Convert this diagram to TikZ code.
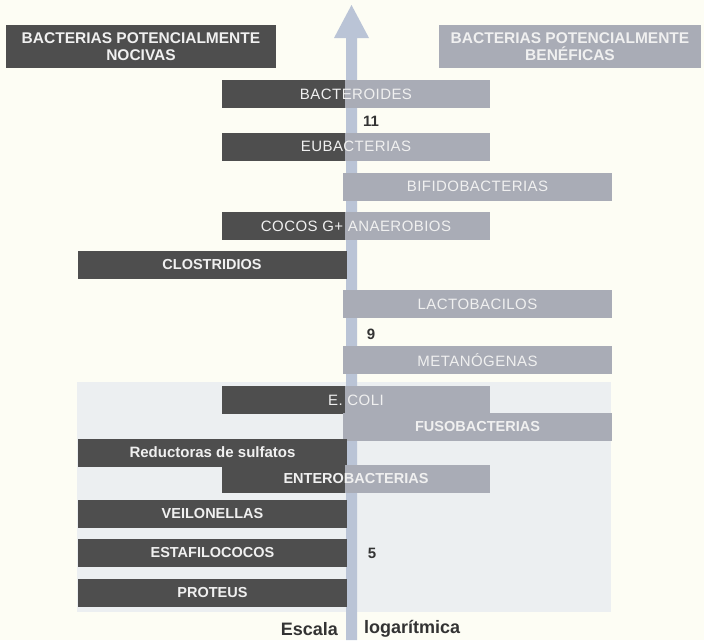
\documentclass[tikz,border=0pt]{standalone}
\usepackage{fontspec}
\setmainfont{Liberation Sans}
\definecolor{bgc}{HTML}{FDFDF4}
\definecolor{panelc}{HTML}{ECEFF1}
\definecolor{darkc}{HTML}{4E4E4E}
\definecolor{lightc}{HTML}{A9ACB6}
\definecolor{arrowc}{HTML}{BAC4D6}
\definecolor{txtc}{HTML}{F0F0F0}
\definecolor{numc}{HTML}{333333}
\newcommand{\regf}{\fontsize{15}{17}\selectfont\addfontfeature{LetterSpace=3}}
\newcommand{\boldf}{\fontsize{14.5}{17}\selectfont\bfseries}
\newcommand{\hdrf}{\fontsize{15.5}{16.5}\selectfont\bfseries}
\tikzset{
  box/.style={minimum height=28pt, minimum width=269pt, inner sep=0pt, text=txtc, font=\regf},
  darkbox/.style={box, fill=darkc, font=\boldf},
  lightbox/.style={box, fill=lightc},
  splitbox/.style={box, minimum width=268pt, fill=lightc,
    path picture={\fill[darkc] (path picture bounding box.south west) rectangle (path picture bounding box.north -| axis);}},
  boldtxt/.style={font=\boldf},
  num/.style={font=\fontsize{15}{17}\selectfont\bfseries, text=numc, inner sep=0pt},
  scalelbl/.style={font=\fontsize{18}{20}\selectfont\bfseries, text=numc, inner sep=0pt},
}
\begin{document}
\begin{tikzpicture}[x=1pt,y=-1pt]
\fill[bgc] (0,0) rectangle (704,640);
\useasboundingbox (0,0) rectangle (704,640);
\coordinate (axis) at (345,0);
% lower panel
\fill[panelc] (77,382) rectangle (611,612);
% axis arrow
\fill[arrowc] (346,640) -- (346,38) -- (334,38) -- (351.5,5) -- (369,38) -- (357,38) -- (357,640) -- cycle;
% headers
\node[fill=darkc, text=txtc, font=\hdrf, align=center, minimum width=270pt, minimum height=43pt, inner sep=0pt] (hdrL) at (141,46.5) {BACTERIAS POTENCIALMENTE\\NOCIVAS};
\node[fill=lightc, text=txtc, font=\hdrf, align=center, minimum width=262pt, minimum height=43pt, inner sep=0pt] (hdrR) at (570,46.5) {BACTERIAS POTENCIALMENTE\\BENÉFICAS};
% boxes
\node[splitbox] (bact) at (356,94) {BACTEROIDES};
\node[num] (n11) at (371,121) {11};
\node[splitbox] (eub) at (356,146.5) {EUBACTERIAS};
\node[lightbox] (bifi) at (477.5,186.5) {BIFIDOBACTERIAS};
\node[splitbox] (cocos) at (356,226) {COCOS G+ ANAEROBIOS};
\node[darkbox] (clos) at (212,265) {CLOSTRIDIOS};
\node[lightbox] (lacto) at (477.5,304) {LACTOBACILOS};
\node[num] (n9) at (371,334) {9};
\node[lightbox] (meta) at (477.5,360) {METANÓGENAS};
\node[splitbox] (ecoli) at (356,400) {E. COLI};
\node[lightbox, boldtxt] (fuso) at (477.5,426.5) {FUSOBACTERIAS};
\node[darkbox, font=\fontsize{15}{17}\selectfont\bfseries] (redu) at (212.5,452.5) {Reductoras de sulfatos};
\node[splitbox, boldtxt] (entero) at (356,479) {ENTEROBACTERIAS};
\node[darkbox] (veil) at (212.5,514) {VEILONELLAS};
\node[darkbox] (esta) at (212.5,553) {ESTAFILOCOCOS};
\node[num] (n5) at (372,553) {5};
\node[darkbox] (prot) at (212.5,592.5) {PROTEUS};
% scale label
\node[scalelbl, anchor=east] (esc) at (338,629) {Escala};
\node[scalelbl, anchor=west] (loga) at (364,629) {logarítmica};
\end{tikzpicture}
\end{document}
